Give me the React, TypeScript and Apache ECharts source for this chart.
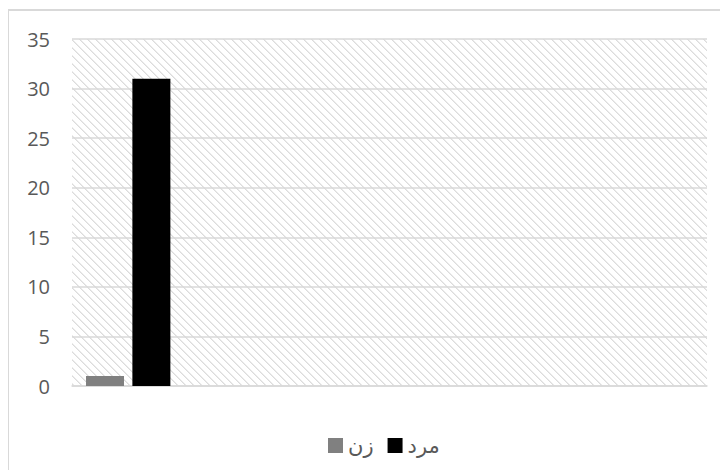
import React, { useEffect, useRef } from "react";
import * as echarts from "echarts";

const categories = ["", "", "", ""];
const womenName = "زن";
const menName = "مرد";
const womenValues = [1, null, null, null];
const menValues = [31, null, null, null];
const emptySlot = [null, null, null, null];
const yTicks = { min: 0, max: 35, interval: 5 };

function makeHatch(): HTMLCanvasElement {
  const c = document.createElement("canvas");
  c.width = 8;
  c.height = 8;
  const ctx = c.getContext("2d")!;
  ctx.fillStyle = "#ffffff";
  ctx.fillRect(0, 0, 8, 8);
  for (let y = 0; y < 8; y++) {
    for (let x = 0; x < 8; x++) {
      const d = (((x - y) % 8) + 8) % 8;
      if (d === 0) {
        ctx.fillStyle = "#dcdcdc";
        ctx.fillRect(x, y, 1, 1);
      } else if (d === 1) {
        ctx.fillStyle = "#ebebeb";
        ctx.fillRect(x, y, 1, 1);
      }
    }
  }
  return c;
}

export default function App() {
  const ref = useRef<HTMLDivElement>(null);
  useEffect(() => {
    if (!ref.current) return;
    const chart = echarts.init(ref.current, null, { renderer: "svg" });
    const hatch = makeHatch();
    const textColor = "#595959";
    const font = "'Open Sans', 'DejaVu Sans', sans-serif";
    chart.setOption({
      animation: false,
      backgroundColor: "#ffffff",
      graphic: [
        {
          type: "rect",
          shape: { x: 0, y: 2, width: 760, height: 520 },
          style: { fill: "none", stroke: "#d9d9d9", lineWidth: 2 },
          silent: true,
          z: 100,
        },
      ],
      grid: {
        left: 64,
        top: 31,
        right: 21,
        bottom: 84,
        show: true,
        borderWidth: 0,
        backgroundColor: { image: hatch, repeat: "repeat", imageWidth: 8, imageHeight: 8 },
      },
      legend: {
        data: [womenName, menName],
        left: 315,
        top: 422,
        itemWidth: 15,
        itemHeight: 15,
        itemGap: 14,
        icon: "rect",
        textStyle: { color: textColor, fontSize: 21, fontFamily: "'DejaVu Sans', sans-serif" },
      },
      xAxis: {
        type: "category",
        data: categories,
        axisLine: { show: true, lineStyle: { color: "#d9d9d9", width: 1.5 } },
        axisTick: { show: false },
        axisLabel: { show: false },
      },
      yAxis: {
        type: "value",
        min: yTicks.min,
        max: yTicks.max,
        interval: yTicks.interval,
        axisLine: { show: false },
        axisTick: { show: false },
        axisLabel: { color: textColor, fontSize: 20, fontFamily: font, margin: 22 },
        splitLine: { lineStyle: { color: "#d9d9d9", width: 1.5 } },
      },
      series: [
        {
          name: womenName,
          type: "bar",
          data: womenValues,
          barWidth: 38,
          barGap: "22%",
          itemStyle: { color: "#808080" },
        },
        {
          name: menName,
          type: "bar",
          data: menValues,
          barWidth: 38,
          barGap: "22%",
          itemStyle: { color: "#000000" },
        },
        {
          name: "_",
          type: "bar",
          data: emptySlot,
          barWidth: 38,
          barGap: "22%",
          itemStyle: { color: "#ffffff" },
        },
      ],
    });
    return () => chart.dispose();
  }, []);
  return <div ref={ref} style={{ width: 720, height: 462 }} />;
}
